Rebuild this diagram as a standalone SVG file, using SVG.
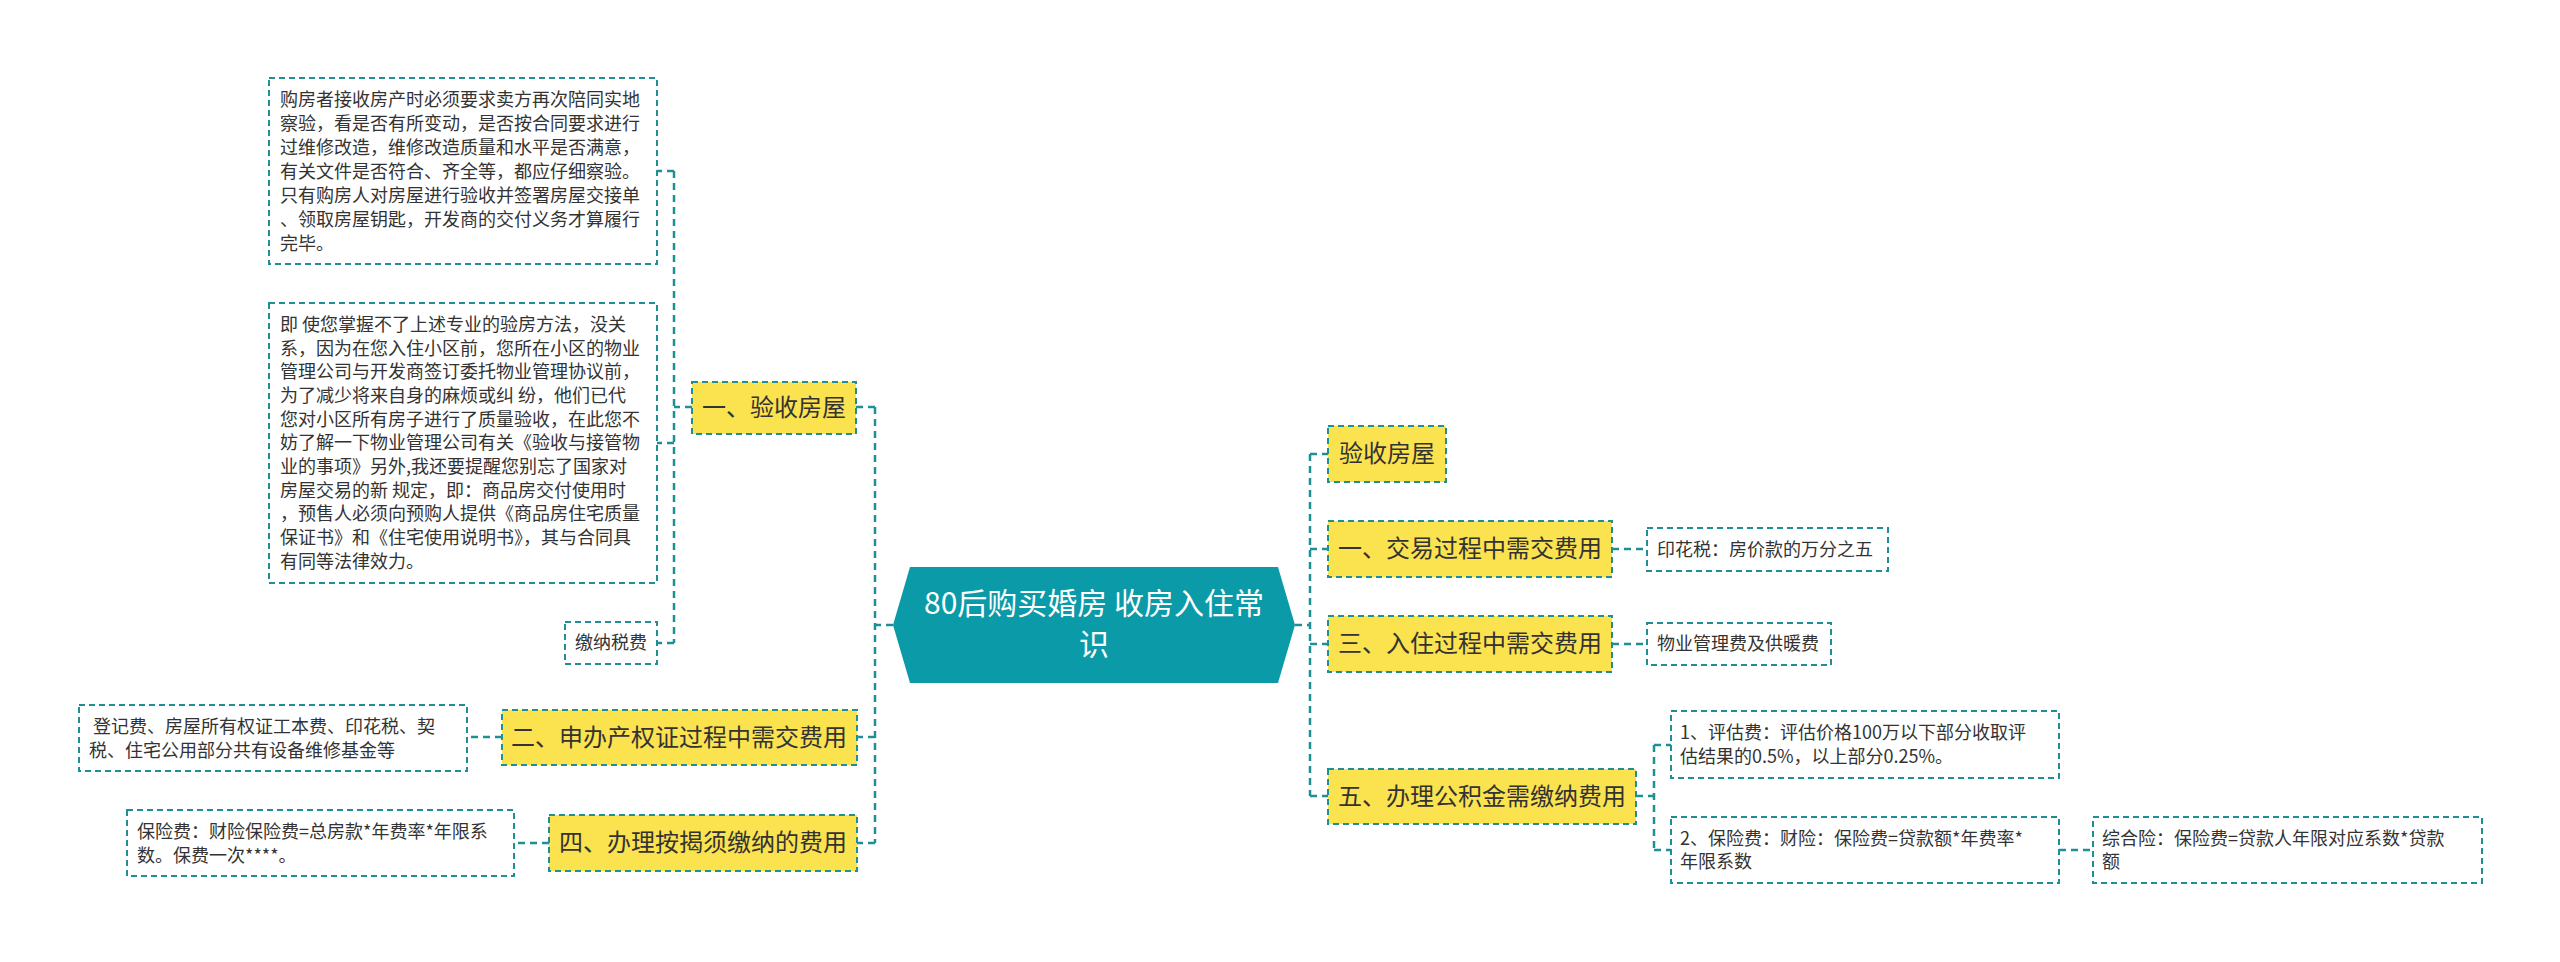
<svg xmlns="http://www.w3.org/2000/svg" width="2560" height="962" viewBox="0 0 2560 962">
<style>
text{font-family:"Noto Sans CJK SC","Liberation Sans",sans-serif;fill:#333}
.y{fill:#fbe24f;stroke:#1f8f96;stroke-width:2;stroke-dasharray:6 4}
.b{fill:#fff;stroke:#1f8f96;stroke-width:2;stroke-dasharray:6 4}
.c{fill:none;stroke:#1f8f96;stroke-width:2.5;stroke-dasharray:7 5}
.l1{font-size:24px;text-anchor:middle}
.s{font-size:18px}
</style>
<rect width="2560" height="962" fill="#fff"/>
<g id="connectors">
<path class="c" d="M893 625H875M875 407V843M875 407H856M875 737H857M875 843H857"/>
<path class="c" d="M692 407H674M674 171V643M674 171H657M674 443H657M674 643H657"/>
<path class="c" d="M502 737H467M549 843H514"/>
<path class="c" d="M1295 625H1310M1310 454V796M1310 454H1328M1310 549H1328M1310 644H1328M1310 796H1328"/>
<path class="c" d="M1612 549H1647M1612 644H1647M1636 796H1654M1654 745V850M1654 745H1671M1654 850H1671M2059 850H2093"/>
</g>
<g id="center">
<polygon points="910,567 1278,567 1295,625 1278,683 910,683 893,625" fill="#0b9aa8"/>
<text x="1094" y="614" font-size="30" text-anchor="middle" style="fill:#fff">80后购买婚房 收房入住常</text>
<text x="1094" y="655" font-size="30" text-anchor="middle" style="fill:#fff">识</text>
</g>
<g id="n1"><rect class="y" x="692" y="382" width="164" height="52"/><text class="l1" x="774" y="416">一、验收房屋</text></g>
<g id="n1a"><rect class="b" x="269" y="78" width="388" height="186"/>
<text class="s" x="280"><tspan x="280" y="106">购房者接收房产时必须要求卖方再次陪同实地</tspan><tspan x="280" y="130">察验，看是否有所变动，是否按合同要求进行</tspan><tspan x="280" y="154">过维修改造，维修改造质量和水平是否满意，</tspan><tspan x="280" y="178">有关文件是否符合、齐全等，都应仔细察验。</tspan><tspan x="280" y="202">只有购房人对房屋进行验收并签署房屋交接单</tspan><tspan x="280" y="226">、领取房屋钥匙，开发商的交付义务才算履行</tspan><tspan x="280" y="250">完毕。</tspan></text></g>
<g id="n1b"><rect class="b" x="269" y="303" width="388" height="280"/>
<text class="s"><tspan x="280" y="331">即 使您掌握不了上述专业的验房方法，没关</tspan><tspan x="280" y="355">系，因为在您入住小区前，您所在小区的物业</tspan><tspan x="280" y="378">管理公司与开发商签订委托物业管理协议前，</tspan><tspan x="280" y="402">为了减少将来自身的麻烦或纠 纷，他们已代</tspan><tspan x="280" y="426">您对小区所有房子进行了质量验收，在此您不</tspan><tspan x="280" y="449">妨了解一下物业管理公司有关《验收与接管物</tspan><tspan x="280" y="473">业的事项》另外,我还要提醒您别忘了国家对</tspan><tspan x="280" y="497">房屋交易的新 规定，即：商品房交付使用时</tspan><tspan x="280" y="520">，预售人必须向预购人提供《商品房住宅质量</tspan><tspan x="280" y="544">保证书》和《住宅使用说明书》，其与合同具</tspan><tspan x="280" y="568">有同等法律效力。</tspan></text></g>
<g id="n1c"><rect class="b" x="565" y="622" width="92" height="42"/><text class="s" x="611" y="649" text-anchor="middle">缴纳税费</text></g>
<g id="n2"><rect class="y" x="502" y="710" width="355" height="55"/><text class="l1" x="679" y="746">二、申办产权证过程中需交费用</text></g>
<g id="n2a"><rect class="b" x="79" y="705" width="388" height="66"/><text class="s"><tspan x="93" y="733">登记费、房屋所有权证工本费、印花税、契</tspan><tspan x="89" y="757">税、住宅公用部分共有设备维修基金等</tspan></text></g>
<g id="n4"><rect class="y" x="549" y="815" width="308" height="56"/><text class="l1" x="703" y="851">四、办理按揭须缴纳的费用</text></g>
<g id="n4a"><rect class="b" x="127" y="810" width="387" height="66"/><text class="s"><tspan x="137" y="838">保险费：财险保险费=总房款*年费率*年限系</tspan><tspan x="137" y="862">数。保费一次****。</tspan></text></g>
<g id="r0"><rect class="y" x="1328" y="426" width="118" height="56"/><text class="l1" x="1387" y="462">验收房屋</text></g>
<g id="r1"><rect class="y" x="1328" y="521" width="284" height="56"/><text class="l1" x="1470" y="557">一、交易过程中需交费用</text></g>
<g id="r1a"><rect class="b" x="1647" y="528" width="241" height="43"/><text class="s" x="1657" y="556">印花税：房价款的万分之五</text></g>
<g id="r3"><rect class="y" x="1328" y="616" width="284" height="56"/><text class="l1" x="1470" y="652">三、入住过程中需交费用</text></g>
<g id="r3a"><rect class="b" x="1647" y="623" width="184" height="42"/><text class="s" x="1657" y="650">物业管理费及供暖费</text></g>
<g id="r5"><rect class="y" x="1328" y="769" width="308" height="55"/><text class="l1" x="1482" y="805">五、办理公积金需缴纳费用</text></g>
<g id="r5a"><rect class="b" x="1671" y="711" width="388" height="67"/><text class="s"><tspan x="1680" y="739">1、评估费：评估价格100万以下部分收取评</tspan><tspan x="1680" y="763">估结果的0.5%，以上部分0.25%。</tspan></text></g>
<g id="r5b"><rect class="b" x="1671" y="817" width="388" height="66"/><text class="s"><tspan x="1680" y="845">2、保险费：财险：保险费=贷款额*年费率*</tspan><tspan x="1680" y="868">年限系数</tspan></text></g>
<g id="r5c"><rect class="b" x="2093" y="817" width="389" height="66"/><text class="s"><tspan x="2102" y="845">综合险：保险费=贷款人年限对应系数*贷款</tspan><tspan x="2102" y="868">额</tspan></text></g>
</svg>
